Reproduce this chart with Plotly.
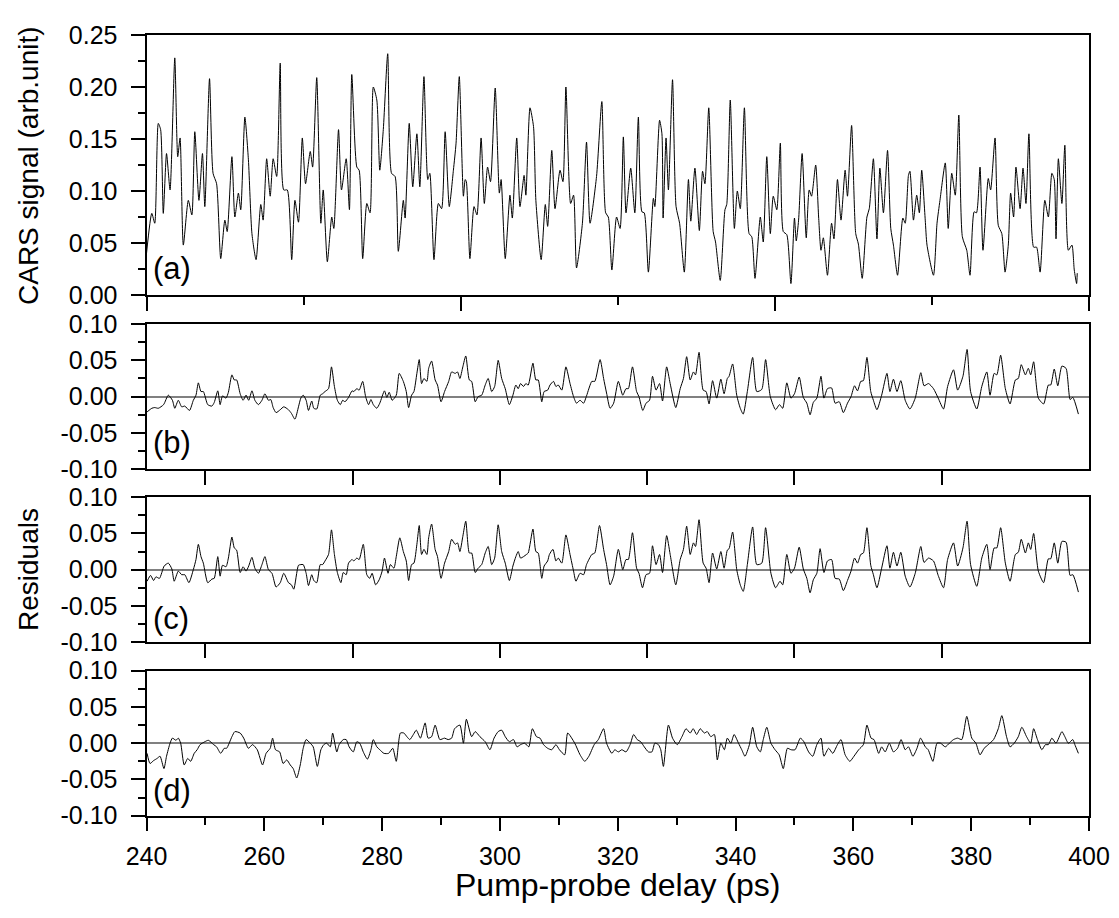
import plotly.graph_objects as go

# ---------------- data ----------------
a_delay = [240.0, 240.9, 241.4, 242.0, 242.4, 242.85, 243.4, 244.0, 244.8, 245.3, 245.7, 246.25, 247.1, 247.7, 248.2,
           248.9, 249.5, 249.9, 250.7, 251.3, 251.9, 252.6, 253.3, 253.7, 254.5, 255.0, 255.6, 256.0, 256.7, 257.3,
           257.9, 258.6, 259.4, 259.8, 260.4, 261.0, 261.5, 262.1, 262.7, 263.3, 263.9, 264.65, 265.2, 265.8, 266.45,
           267.0, 267.8, 268.2, 268.9, 269.6, 270.0, 270.7, 271.45, 271.8, 272.6, 273.1, 273.9, 274.45, 274.85, 275.7,
           276.1, 276.7, 277.4, 277.95, 278.5, 279.1, 279.6, 280.2, 280.95, 281.6, 282.2, 282.75, 283.6, 283.9, 284.6,
           285.2, 285.9, 286.4, 287.1, 287.75, 288.1, 288.8, 289.55, 290.1, 290.7, 291.4, 292.1, 292.55, 293.1, 293.8,
           294.1, 294.3, 294.9, 295.6, 296.1, 296.8, 297.35, 297.9, 298.4, 299.2, 299.9, 300.2, 300.9, 301.7, 302.1,
           302.85, 303.4, 304.1, 304.4, 305.1, 305.7, 306.1, 307.0, 307.7, 308.1, 308.8, 309.35, 310.2, 310.7, 311.2,
           312.0, 312.5, 313.0, 314.0, 314.7, 315.3, 316.4, 317.3, 317.95, 318.4, 319.0, 319.8, 320.4, 320.95, 321.4,
           322.2, 322.9, 323.5, 324.1, 324.5, 325.2, 326.05, 326.3, 327.1, 327.5, 327.7, 328.2, 328.6, 329.3, 329.9,
           330.5, 331.3, 332.0, 332.4, 333.1, 333.85, 334.4, 334.8, 335.45, 336.2, 336.6, 337.4, 338.2, 338.5, 339.1,
           339.8, 340.3, 340.8, 341.5, 342.3, 342.75, 343.3, 344.2, 344.7, 345.3, 345.9, 346.4, 347.0, 347.6, 348.1,
           348.7, 349.4, 350.0, 350.3, 350.7, 351.3, 352.0, 352.5, 352.9, 353.6, 354.1, 354.5, 354.9, 355.6, 356.3,
           356.7, 357.3, 357.9, 358.6, 359.0, 359.7, 360.4, 360.85, 361.5, 362.3, 362.7, 363.4, 364.0, 364.5, 365.1,
           365.8, 366.35, 366.8, 367.5, 368.4, 368.8, 369.35, 369.6, 370.2, 370.75, 371.2, 371.6, 372.2, 372.5, 373.6,
           374.2, 374.7, 375.6, 376.1, 376.7, 377.3, 377.9, 378.5, 379.25, 379.8, 380.5, 380.9, 381.5, 382.0, 382.9,
           383.3, 384.05, 384.6, 385.2, 385.75, 386.3, 386.7, 387.2, 387.6, 388.3, 388.8, 389.3, 389.8, 390.6, 391.1,
           391.7, 392.5, 393.1, 393.7, 394.1, 394.4, 394.8, 395.4, 395.9, 396.5, 397.1, 397.5, 397.9, 398.0]
a_signal = [0.040, 0.0785, 0.069, 0.165, 0.159, 0.0785, 0.136, 0.101, 0.228, 0.133, 0.151, 0.048, 0.091, 0.077, 0.157,
            0.091, 0.136, 0.085, 0.208, 0.117, 0.107, 0.035, 0.072, 0.061, 0.133, 0.075, 0.098, 0.082, 0.171, 0.130,
            0.059, 0.034, 0.087, 0.072, 0.131, 0.095, 0.131, 0.114, 0.223, 0.101, 0.101, 0.034, 0.091, 0.070, 0.151,
            0.107, 0.138, 0.123, 0.209, 0.069, 0.101, 0.032, 0.075, 0.064, 0.159, 0.101, 0.131, 0.082, 0.212, 0.123,
            0.120, 0.035, 0.088, 0.079, 0.200, 0.1875, 0.120, 0.159, 0.232, 0.117, 0.114, 0.042, 0.091, 0.074, 0.165,
            0.104, 0.155, 0.104, 0.210, 0.111, 0.117, 0.034, 0.088, 0.083, 0.157, 0.085, 0.120, 0.146, 0.210, 0.095,
            0.111, 0.109, 0.035, 0.085, 0.077, 0.151, 0.088, 0.123, 0.109, 0.199, 0.098, 0.111, 0.035, 0.096, 0.074,
            0.151, 0.085, 0.115, 0.096, 0.180, 0.162, 0.091, 0.034, 0.087, 0.066, 0.139, 0.083, 0.120, 0.109, 0.200,
            0.088, 0.096, 0.026, 0.069, 0.147, 0.069, 0.114, 0.186, 0.079, 0.075, 0.024, 0.075, 0.064, 0.152, 0.079,
            0.122, 0.079, 0.171, 0.080, 0.079, 0.022, 0.093, 0.085, 0.168, 0.155, 0.074, 0.151, 0.101, 0.207, 0.085,
            0.069, 0.022, 0.111, 0.071, 0.122, 0.062, 0.119, 0.107, 0.180, 0.061, 0.051, 0.014, 0.082, 0.087, 0.1875,
            0.064, 0.100, 0.083, 0.180, 0.059, 0.056, 0.016, 0.075, 0.051, 0.133, 0.059, 0.095, 0.082, 0.146, 0.061,
            0.058, 0.011, 0.074, 0.052, 0.072, 0.136, 0.055, 0.101, 0.095, 0.125, 0.075, 0.043, 0.055, 0.019, 0.069,
            0.054, 0.111, 0.072, 0.120, 0.095, 0.163, 0.059, 0.049, 0.016, 0.075, 0.083, 0.131, 0.054, 0.122, 0.079,
            0.139, 0.064, 0.048, 0.019, 0.074, 0.069, 0.115, 0.119, 0.072, 0.096, 0.079, 0.120, 0.072, 0.048, 0.019,
            0.069, 0.091, 0.127, 0.064, 0.117, 0.096, 0.173, 0.056, 0.043, 0.019, 0.080, 0.079, 0.123, 0.043, 0.112,
            0.101, 0.151, 0.067, 0.059, 0.022, 0.048, 0.098, 0.075, 0.123, 0.083, 0.122, 0.088, 0.155, 0.046, 0.046,
            0.022, 0.091, 0.075, 0.117, 0.111, 0.054, 0.131, 0.088, 0.144, 0.043, 0.048, 0.024, 0.011, 0.021]

b_delay = [240.1, 240.9, 241.4, 242.0, 242.9, 243.7, 244.4, 244.8, 245.4, 245.97, 246.5, 247.3, 247.95, 248.4, 248.8,
           249.25, 249.65, 250.4, 251.1, 251.5, 252.1, 252.5, 252.9, 253.5, 253.9, 254.5, 254.9, 255.3, 255.9, 256.4,
           256.9, 257.35, 257.9, 258.4, 259.0, 259.6, 260.1, 260.7, 261.1, 261.5, 262.0, 262.7, 263.3, 264.1, 264.6,
           265.2, 265.8, 266.2, 266.6, 267.1, 267.5, 268.05, 268.4, 268.9, 269.5, 269.9, 270.3, 270.9, 271.4, 271.9,
           272.4, 272.9, 273.3, 273.7, 274.3, 274.9, 275.2, 275.7, 276.1, 276.7, 277.2, 277.7, 278.1, 278.5, 279.1,
           279.6, 280.4, 280.8, 281.2, 281.7, 282.4, 282.9, 283.6, 284.1, 284.5, 285.0, 285.4, 285.9, 286.3, 286.7,
           287.1, 287.6, 287.9, 288.4, 289.0, 289.4, 290.0, 290.6, 291.3, 291.8, 292.4, 292.8, 293.2, 293.7, 294.2,
           294.8, 295.2, 295.8, 296.3, 296.9, 297.5, 298.0, 298.6, 299.1, 299.7, 300.3, 300.9, 301.6, 302.2, 302.7,
           303.1, 303.5, 304.0, 304.4, 304.8, 305.6, 306.1, 306.5, 307.1, 307.5, 308.1, 308.5, 309.1, 309.5, 309.9,
           310.5, 311.2, 311.9, 312.5, 313.0, 313.6, 314.2, 314.7, 315.6, 316.1, 317.0, 317.6, 318.1, 318.7, 319.3,
           320.1, 320.85, 321.4, 321.8, 322.5, 323.2, 323.6, 324.25, 324.8, 325.4, 325.9, 326.5, 327.1, 327.6, 328.3,
           328.9, 329.85, 330.6, 331.15, 331.7, 332.3, 332.85, 333.2, 333.8, 334.5, 335.0, 335.5, 336.1, 336.8, 337.5,
           338.05, 338.6, 338.9, 339.5, 340.2, 340.8, 341.3, 342.0, 342.9, 343.6, 344.45, 345.1, 345.9, 346.8, 347.45,
           348.0, 348.7, 349.4, 350.0, 350.8, 351.5, 352.1, 352.65, 353.2, 353.8, 354.5, 355.0, 355.6, 356.3, 356.9,
           357.6, 358.3, 359.0, 359.6, 360.2, 360.7, 361.25, 361.7, 362.3, 362.95, 363.4, 364.0, 364.8, 365.7, 366.2,
           366.8, 367.4, 368.05, 368.8, 369.6, 370.5, 371.45, 372.0, 372.75, 373.6, 374.4, 375.3, 376.0, 377.0, 377.7,
           378.6, 379.3, 379.9, 380.95, 381.8, 382.65, 383.2, 383.9, 384.35, 385.0, 385.8, 386.6, 387.5, 388.0, 388.5,
           389.2, 389.7, 390.1, 390.6, 391.4, 392.3, 393.1, 393.5, 394.1, 394.7, 395.4, 396.1, 396.8, 397.25, 398.2]
b_resid = [-0.021, -0.016, -0.015, -0.016, -0.011, 0.002, -0.005, -0.016, -0.005, -0.014, -0.013, -0.019, -0.005, 0.002, 0.019,
           0.007, 0.007, -0.011, -0.013, -0.008, 0.008, -0.011, 0.001, -0.002, 0.006, 0.030, 0.023, 0.023, 0.004, -0.005,
           0.002, -0.005, 0.008, -0.005, -0.011, -0.005, 0.004, -0.005, -0.004, -0.015, -0.022, -0.018, -0.014, -0.018, -0.023,
           -0.031, -0.014, -0.002, 0.002, -0.005, -0.019, -0.006, -0.016, -0.017, 0.002, 0.004, 0.007, 0.011, 0.041, 0.014,
           -0.005, -0.011, -0.005, -0.007, -0.001, 0.008, 0.007, 0.011, 0.009, 0.021, 0.000, -0.011, -0.004, -0.011, -0.016,
           -0.009, 0.008, -0.001, 0.006, -0.005, 0.002, 0.032, 0.021, 0.007, -0.015, 0.002, 0.007, 0.032, 0.051, 0.018,
           0.025, 0.021, 0.039, 0.049, 0.023, 0.016, -0.007, 0.007, 0.021, 0.034, 0.032, 0.034, 0.025, 0.041, 0.056,
           0.023, 0.021, -0.007, 0.000, 0.002, 0.016, 0.025, 0.007, 0.014, 0.050, 0.025, 0.011, -0.011, 0.002, 0.016,
           0.011, 0.018, 0.014, 0.018, 0.016, 0.046, 0.023, 0.023, -0.007, 0.007, 0.009, 0.016, 0.021, 0.014, 0.016,
           0.009, 0.041, 0.018, 0.000, -0.009, -0.005, -0.009, 0.001, 0.021, 0.021, 0.051, 0.025, 0.005, -0.016, -0.009,
           0.021, 0.002, 0.011, 0.011, 0.041, 0.007, 0.000, -0.019, -0.009, -0.005, 0.028, 0.009, 0.018, -0.006, 0.041,
           0.018, -0.015, 0.011, 0.025, 0.055, 0.023, 0.034, 0.030, 0.061, 0.009, 0.007, -0.010, 0.022, -0.002, 0.024,
           0.004, 0.025, 0.028, 0.045, 0.002, -0.016, -0.024, 0.007, 0.054, 0.007, 0.010, 0.051, 0.000, -0.018, -0.011,
           -0.016, 0.019, -0.002, 0.004, 0.027, -0.001, -0.009, -0.025, -0.008, -0.002, 0.028, -0.002, 0.011, 0.012, -0.009,
           -0.007, -0.022, -0.009, 0.000, 0.015, 0.008, 0.021, 0.022, 0.054, 0.007, -0.005, -0.018, 0.002, 0.032, 0.007,
           0.024, 0.007, 0.022, -0.005, -0.017, -0.002, 0.033, 0.015, 0.018, 0.011, -0.002, -0.017, 0.014, 0.037, 0.009,
           0.028, 0.065, 0.007, -0.017, 0.014, 0.034, 0.002, 0.032, 0.030, 0.057, 0.011, -0.010, 0.023, 0.025, 0.044,
           0.030, 0.039, 0.030, 0.048, -0.002, -0.010, 0.016, 0.016, 0.038, 0.015, 0.042, 0.039, -0.004, -0.001, -0.024]

c_delay = [240.1, 240.7, 241.2, 241.6, 242.2, 243.0, 243.7, 244.3, 244.7, 245.4, 245.97, 246.5, 247.2, 247.95, 248.4,
           248.8, 249.25, 249.65, 250.4, 251.1, 251.5, 252.1, 252.5, 252.9, 253.5, 253.9, 254.5, 254.9, 255.3, 255.9,
           256.4, 256.9, 257.35, 257.9, 258.4, 259.0, 259.6, 260.1, 260.7, 261.3, 262.0, 262.7, 263.3, 264.1, 264.6,
           265.0, 265.8, 266.2, 266.6, 267.1, 267.5, 268.05, 268.4, 268.9, 269.5, 269.9, 270.3, 270.9, 271.4, 271.9,
           272.4, 273.0, 273.4, 273.9, 274.3, 274.9, 275.2, 275.7, 276.1, 276.8, 277.4, 277.9, 278.3, 278.9, 279.5,
           280.0, 280.4, 281.0, 281.4, 282.0, 282.4, 283.0, 283.6, 284.1, 284.5, 285.0, 285.4, 285.9, 286.3, 286.7,
           287.1, 287.6, 287.9, 288.4, 289.0, 289.4, 290.0, 290.6, 291.3, 291.8, 292.4, 292.8, 293.2, 293.7, 294.2,
           294.8, 295.2, 295.8, 296.3, 296.9, 297.5, 298.0, 298.6, 299.1, 299.7, 300.3, 300.9, 301.6, 302.2, 302.7,
           303.1, 303.5, 304.0, 304.5, 304.8, 305.6, 306.1, 306.5, 307.1, 307.5, 308.1, 308.4, 309.0, 309.5, 309.9,
           310.5, 311.2, 311.9, 312.5, 312.9, 313.6, 314.2, 314.7, 315.6, 316.1, 316.9, 317.6, 318.1, 318.7, 319.3,
           320.1, 320.85, 321.4, 321.8, 322.5, 323.2, 323.6, 324.2, 324.8, 325.4, 325.9, 326.5, 327.1, 327.6, 328.3,
           328.9, 329.85, 330.6, 331.15, 331.7, 332.3, 332.85, 333.2, 333.8, 334.5, 335.0, 335.5, 336.1, 336.8, 337.5,
           338.05, 338.6, 338.9, 339.5, 340.2, 340.8, 341.3, 342.0, 342.9, 343.6, 344.45, 345.1, 346.0, 346.8, 347.55,
           348.0, 348.7, 349.4, 350.0, 350.8, 351.5, 352.1, 352.65, 353.2, 353.8, 354.35, 355.0, 355.6, 356.3, 356.9,
           357.6, 358.3, 359.0, 359.6, 360.2, 360.7, 361.25, 361.7, 362.3, 362.95, 363.4, 364.0, 364.8, 365.7, 366.2,
           366.8, 367.4, 368.05, 368.8, 369.6, 370.5, 371.45, 372.0, 372.75, 373.6, 374.4, 375.3, 376.0, 377.0, 377.7,
           378.6, 379.3, 379.9, 380.95, 381.8, 382.65, 383.2, 383.9, 384.35, 385.0, 385.8, 386.6, 387.5, 388.0, 388.5,
           389.2, 389.7, 390.1, 390.6, 391.4, 392.3, 393.1, 393.5, 394.1, 394.7, 395.4, 396.1, 396.8, 397.25, 398.2]
c_resid = [-0.016, -0.008, -0.015, -0.010, -0.012, 0.005, 0.009, 0.001, -0.016, -0.002, -0.007, -0.007, -0.018, 0.000, 0.014,
           0.035, 0.018, 0.009, -0.018, -0.013, -0.012, 0.018, -0.009, 0.006, 0.004, 0.016, 0.045, 0.030, 0.027, -0.004,
           0.004, -0.002, 0.005, 0.017, 0.002, -0.005, 0.007, 0.018, 0.000, -0.005, -0.024, -0.018, -0.005, -0.018, -0.021,
           -0.027, 0.006, 0.007, 0.007, -0.005, -0.022, -0.007, -0.015, -0.018, 0.007, 0.007, 0.012, 0.021, 0.055, 0.021,
           -0.004, -0.018, -0.004, -0.007, 0.009, 0.014, 0.012, 0.016, 0.014, 0.035, -0.007, -0.012, -0.005, -0.021, -0.014,
           -0.002, 0.016, -0.005, 0.007, 0.002, 0.018, 0.044, 0.025, 0.012, -0.015, 0.007, 0.009, 0.035, 0.061, 0.021,
           0.028, 0.021, 0.044, 0.063, 0.028, 0.018, -0.012, 0.009, 0.025, 0.042, 0.035, 0.037, 0.025, 0.046, 0.067,
           0.023, 0.023, -0.004, 0.002, 0.007, 0.023, 0.032, 0.007, 0.016, 0.062, 0.025, 0.009, -0.015, 0.005, 0.018,
           0.025, 0.016, 0.018, 0.021, 0.023, 0.056, 0.025, 0.023, -0.012, 0.005, 0.012, 0.021, 0.028, 0.012, 0.016,
           0.009, 0.048, 0.021, -0.002, -0.016, -0.005, -0.007, 0.007, 0.021, 0.023, 0.061, 0.028, 0.007, -0.021, -0.009,
           0.028, 0.000, 0.014, 0.014, 0.051, 0.002, -0.005, -0.025, -0.007, -0.005, 0.033, 0.007, 0.021, -0.004, 0.047,
           0.021, -0.021, 0.014, 0.028, 0.060, 0.021, 0.037, 0.032, 0.069, 0.009, 0.002, -0.018, 0.023, 0.001, 0.025,
           0.002, 0.027, 0.029, 0.052, 0.000, -0.021, -0.030, 0.007, 0.059, 0.007, 0.009, 0.058, -0.005, -0.025, -0.016,
           -0.021, 0.021, -0.005, 0.002, 0.031, 0.001, -0.012, -0.032, -0.014, -0.005, 0.029, -0.004, 0.012, 0.014, -0.012,
           -0.013, -0.029, -0.015, -0.002, 0.016, 0.009, 0.021, 0.023, 0.058, 0.006, -0.007, -0.025, 0.002, 0.033, 0.002,
           0.024, 0.005, 0.024, -0.009, -0.024, -0.005, 0.032, 0.010, 0.016, 0.012, -0.008, -0.025, 0.014, 0.037, 0.005,
           0.030, 0.067, 0.007, -0.023, 0.016, 0.035, 0.000, 0.030, 0.030, 0.058, 0.009, -0.016, 0.021, 0.024, 0.042,
           0.023, 0.037, 0.028, 0.050, -0.002, -0.018, 0.015, 0.015, 0.037, 0.009, 0.039, 0.038, -0.008, -0.007, -0.031]

d_delay = [240.1, 240.6, 241.2, 241.8, 242.3, 242.96, 243.4, 244.0, 244.4, 245.0, 245.4, 245.8, 246.4, 247.0, 247.5,
           248.1, 248.6, 249.1, 249.9, 250.5, 251.4, 251.9, 252.6, 253.2, 253.6, 254.5, 255.0, 255.9, 256.5, 257.3,
           258.0, 258.8, 259.7, 260.3, 261.0, 261.4, 261.9, 262.6, 263.2, 263.8, 264.4, 264.9, 265.5, 266.1, 266.6,
           267.1, 267.8, 268.3, 269.0, 269.6, 270.1, 270.6, 271.2, 271.6, 272.3, 272.7, 273.4, 273.9, 274.4, 275.1,
           275.7, 276.2, 276.8, 277.5, 278.1, 278.5, 279.1, 279.6, 280.3, 281.1, 281.8, 282.4, 283.1, 283.7, 284.2,
           284.7, 285.3, 285.8, 286.5, 287.3, 287.8, 288.4, 289.0, 289.8, 290.6, 291.2, 291.8, 292.3, 293.2, 293.8,
           294.3, 295.2, 295.8, 296.6, 297.5, 298.3, 299.0, 299.7, 300.3, 300.9, 301.6, 302.3, 302.9, 303.5, 304.2,
           304.9, 305.5, 306.2, 306.8, 307.4, 308.1, 308.8, 309.5, 310.1, 311.0, 311.5, 312.7, 313.6, 314.4, 315.1,
           316.0, 316.7, 317.6, 318.1, 319.0, 319.5, 320.1, 320.7, 321.4, 322.1, 322.7, 323.3, 323.9, 324.5, 325.2,
           325.8, 326.3, 326.9, 327.3, 327.75, 328.6, 329.3, 330.1, 330.9, 331.6, 332.3, 332.8, 333.4, 334.0, 334.7,
           335.2, 335.8, 336.4, 336.9, 337.5, 338.1, 338.6, 339.2, 339.75, 340.5, 341.05, 341.6, 342.35, 342.9, 343.6,
           344.2, 344.7, 345.3, 346.0, 346.7, 347.4, 348.1, 348.8, 349.4, 350.1, 351.0, 351.6, 352.4, 353.1, 353.8,
           354.5, 355.0, 355.8, 356.5, 357.3, 357.9, 358.6, 359.4, 360.1, 360.9, 361.7, 362.3, 363.0, 363.5, 364.3,
           364.8, 365.4, 366.1, 366.8, 367.5, 368.1, 368.8, 369.35, 370.1, 370.8, 371.4, 372.2, 372.7, 373.5, 374.2,
           374.8, 375.6, 376.3, 377.0, 377.7, 378.4, 379.25, 380.1, 380.8, 381.5, 382.2, 382.9, 383.8, 384.6, 385.2,
           386.0, 386.6, 387.3, 388.0, 388.6, 389.4, 390.1, 390.6, 391.25, 392.0, 392.6, 393.1, 393.7, 394.4, 395.4,
           395.9, 396.5, 397.25, 397.6, 398.2]
d_resid = [-0.014, -0.028, -0.024, -0.021, -0.018, -0.035, -0.018, 0.000, 0.007, 0.004, 0.007, 0.000, -0.030, -0.021, -0.025,
           -0.014, -0.009, -0.002, 0.002, 0.004, -0.002, -0.005, -0.014, -0.007, -0.007, 0.009, 0.016, 0.014, 0.007, -0.007,
           -0.002, -0.009, -0.030, -0.014, -0.007, 0.007, -0.009, -0.012, -0.028, -0.023, -0.030, -0.035, -0.048, -0.030, -0.007,
           0.005, 0.000, -0.005, -0.032, -0.009, -0.002, 0.000, -0.005, 0.014, -0.012, -0.002, 0.005, 0.005, -0.005, -0.012,
           0.002, 0.000, -0.012, -0.022, -0.009, 0.005, -0.005, -0.009, -0.014, -0.014, -0.007, -0.025, 0.014, 0.014, 0.009,
           0.005, 0.012, 0.018, 0.007, 0.028, 0.007, 0.009, 0.025, 0.005, 0.007, 0.005, 0.007, 0.020, 0.025, 0.000,
           0.033, 0.009, 0.016, 0.009, 0.002, -0.009, 0.007, 0.016, 0.018, 0.009, 0.002, 0.005, -0.005, -0.002, 0.000,
           -0.005, 0.020, 0.009, 0.007, -0.002, -0.007, -0.009, -0.002, -0.009, -0.016, 0.014, 0.000, -0.016, -0.025, -0.018,
           -0.002, 0.005, 0.020, 0.000, -0.014, -0.009, -0.012, -0.009, -0.012, -0.002, 0.012, 0.005, 0.002, -0.005, -0.012,
           -0.012, 0.000, -0.002, -0.009, -0.032, 0.025, 0.007, -0.002, 0.009, 0.020, 0.014, 0.020, 0.012, 0.020, 0.014,
           0.016, 0.009, 0.012, -0.023, 0.000, -0.009, 0.007, 0.000, 0.012, 0.000, -0.009, -0.018, -0.002, 0.022, -0.005,
           -0.012, 0.005, 0.022, 0.000, -0.009, -0.016, -0.035, -0.007, -0.009, -0.009, 0.007, 0.002, -0.012, -0.018, -0.002,
           0.007, -0.018, -0.007, -0.014, -0.002, 0.005, -0.016, -0.025, -0.018, -0.009, -0.002, 0.025, 0.007, 0.005, -0.014,
           -0.005, -0.012, 0.000, -0.012, -0.007, 0.005, -0.009, -0.005, -0.018, -0.007, 0.007, -0.005, -0.009, -0.025, 0.000,
           0.000, -0.005, 0.000, 0.005, 0.007, 0.005, 0.037, 0.007, 0.000, -0.016, -0.007, -0.002, 0.005, 0.020, 0.038,
           0.009, -0.005, 0.000, 0.009, 0.022, 0.009, 0.000, 0.020, 0.005, -0.009, -0.002, -0.002, 0.007, 0.000, 0.016,
           0.009, 0.000, 0.005, -0.002, -0.014]

x_range = [240, 400]
a_range = [0, 0.25]
resid_range = [-0.10, 0.10]
a_ticks = [0.00, 0.05, 0.10, 0.15, 0.20, 0.25]
a_ticktext = ["0.00", "0.05", "0.10", "0.15", "0.20", "0.25"]
r_ticks = [-0.10, -0.05, 0.00, 0.05, 0.10]
r_ticktext = ["-0.10", "-0.05", "0.00", "0.05", "0.10"]
bottom_ticks = [240, 260, 280, 300, 320, 340, 360, 380, 400]
bottom_ticktext = ["240", "260", "280", "300", "320", "340", "360", "380", "400"]
bottom_minor = [250, 270, 290, 310, 330, 350, 370, 390]
a_xmajor = [240, 293.333, 346.667, 400]
a_xminor = [266.667, 320, 373.333]
bc_xticks = [250, 275, 300, 325, 350, 375]
y_minor_step = 0.025

# ---------------- layout geometry (pixels of the 1119x918 window) ----------------
PAGE_OFF = 8                      # default body margin of the html page
W, H = 1119 - PAGE_OFF, 918 - PAGE_OFF
LEFT, RIGHT = 146.5, 1089
panels_px = [(35, 295), (324, 469.3), (497.3, 642), (670.7, 815.7)]
FONT = "Liberation Sans, Arial, Helvetica, sans-serif"


def xd(p):
    return (p - PAGE_OFF) / W


def yd(p):
    return 1 - (p - PAGE_OFF) / H


series = [(a_delay, a_signal), (b_delay, b_resid), (c_delay, c_resid), (d_delay, d_resid)]

fig = go.Figure()
for i, (t, v) in enumerate(series):
    sfx = "" if i == 0 else str(i + 1)
    fig.add_trace(go.Scatter(x=t, y=v, mode="lines",
                             line=dict(color="black", width=1, shape="spline", smoothing=0.6),
                             xaxis="x" + sfx, yaxis="y" + sfx, showlegend=False, hoverinfo="skip"))

layout = dict(width=W, height=H, autosize=False, margin=dict(l=0, r=0, t=0, b=0, pad=0, autoexpand=False),
              paper_bgcolor="white", plot_bgcolor="white", showlegend=False,
              font=dict(family=FONT, color="black", size=25))

for i, (top, bot) in enumerate(panels_px):
    sfx = "" if i == 0 else str(i + 1)
    xa = dict(domain=[xd(LEFT), xd(RIGHT)], anchor="y" + sfx, range=x_range, automargin=False,
              showline=True, linecolor="black", linewidth=2, mirror=True,
              showgrid=False, zeroline=False, ticks="outside", tickwidth=2,
              tickcolor="black", tickfont=dict(family=FONT, size=25, color="black"))
    if i == 0:
        xa.update(tickmode="array", tickvals=a_xmajor, ticklen=14, showticklabels=False,
                  minor=dict(tickmode="array", tickvals=a_xminor, ticklen=8, tickwidth=2,
                             ticks="outside", tickcolor="black", showgrid=False))
    elif i in (1, 2):
        xa.update(tickmode="array", tickvals=bc_xticks, ticklen=14, showticklabels=False)
    else:
        xa.update(tickmode="array", tickvals=bottom_ticks, ticktext=bottom_ticktext, ticklen=13,
                  showticklabels=True, ticklabelstandoff=4,
                  minor=dict(tickmode="array", tickvals=bottom_minor, ticklen=7, tickwidth=2,
                             ticks="outside", tickcolor="black", showgrid=False))
    layout["xaxis" + sfx] = xa

    if i == 0:
        rng, tv, tt = a_range, a_ticks, a_ticktext
    else:
        rng, tv, tt = resid_range, r_ticks, r_ticktext
    ya = dict(domain=[yd(bot), yd(top)], anchor="x" + sfx, range=rng, automargin=False,
              showline=True, linecolor="black", linewidth=2, mirror=True,
              showgrid=False, ticks="outside", ticklen=14, tickwidth=2, tickcolor="black",
              tickmode="array", tickvals=tv, ticktext=tt, ticklabelstandoff=8,
              tickfont=dict(family=FONT, size=25, color="black"),
              minor=dict(dtick=y_minor_step, tick0=0, ticklen=7, tickwidth=2, ticks="outside",
                         tickcolor="black", showgrid=False),
              zeroline=(i != 0), zerolinecolor="#808080", zerolinewidth=1.5)
    layout["yaxis" + sfx] = ya

    # small ticks on the right edge
    rsfx = str(i + 5)
    layout["yaxis" + rsfx] = dict(overlaying="y" + sfx, anchor="x" + sfx, side="right", range=rng,
                                  automargin=False, showline=False, showgrid=False, zeroline=False,
                                  ticks="outside", ticklen=4, tickwidth=2, tickcolor="black",
                                  dtick=y_minor_step, tick0=0, showticklabels=False)

fig.update_layout(**layout)

panel_labels = ["(a)", "(b)", "(c)", "(d)"]
label_px_y = [268, 442, 618, 790]
for lab, py in zip(panel_labels, label_px_y):
    fig.add_annotation(text=lab, x=xd(151), y=yd(py), xref="paper", yref="paper",
                       xanchor="left", yanchor="middle", showarrow=False,
                       font=dict(family=FONT, size=31, color="black"))

fig.add_annotation(text="Pump-probe delay (ps)", x=xd((LEFT + RIGHT) / 2), y=yd(885),
                   xref="paper", yref="paper", xanchor="center", yanchor="middle",
                   showarrow=False, font=dict(family=FONT, size=32, color="black"))
fig.add_annotation(text="CARS signal (arb.unit)", x=xd(28), y=yd(166), textangle=-90,
                   xref="paper", yref="paper", xanchor="center", yanchor="middle",
                   showarrow=False, font=dict(family=FONT, size=28, color="black"))
fig.add_annotation(text="Residuals", x=xd(28), y=yd(570), textangle=-90,
                   xref="paper", yref="paper", xanchor="center", yanchor="middle",
                   showarrow=False, font=dict(family=FONT, size=28, color="black"))

fig.write_html("out.html")
